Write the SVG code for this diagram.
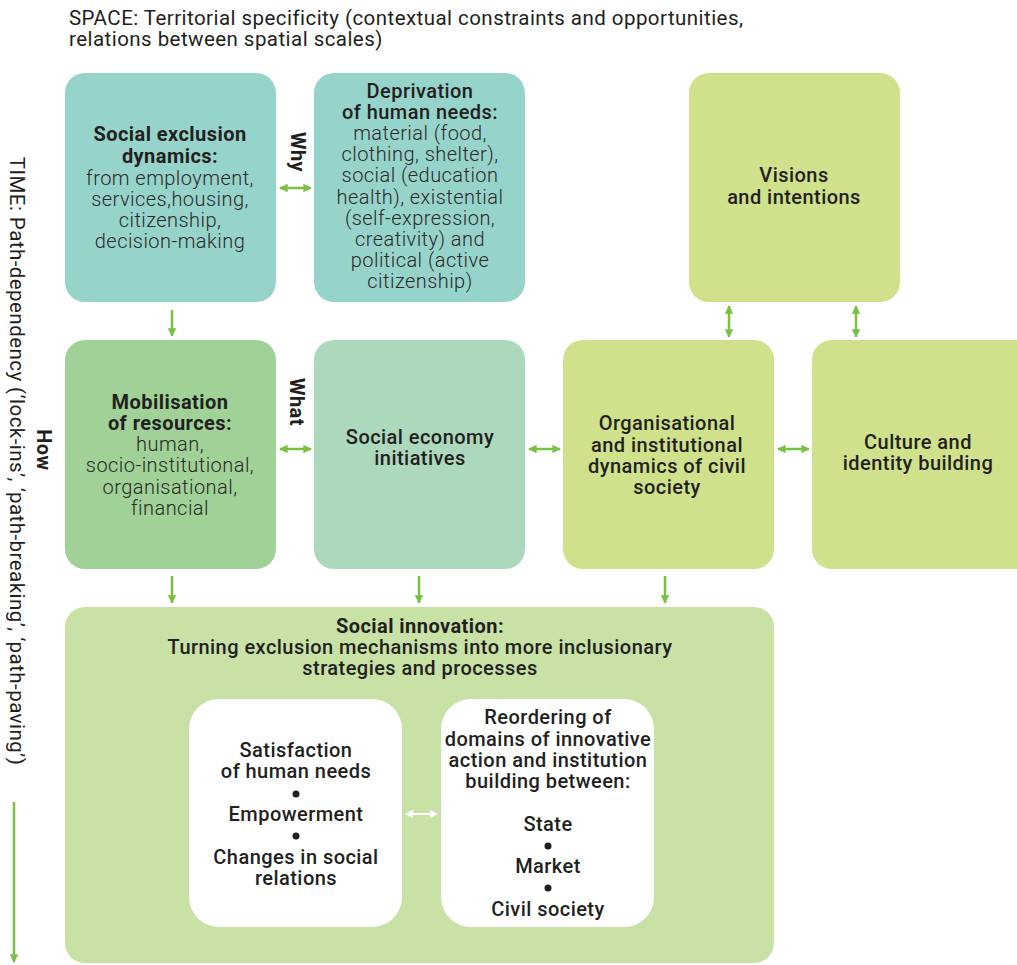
<svg xmlns="http://www.w3.org/2000/svg" width="1017" height="965" viewBox="0 0 1017 965">
<style>
text{font-family:Roboto,"Liberation Sans",sans-serif;fill:#231f20;font-size:20px;letter-spacing:0.45px;text-anchor:middle}
.b{font-weight:700}
.m{font-weight:500}
.l{font-weight:300;fill:#2b2829}
.t{font-size:20.5px;text-anchor:start;font-weight:400}
.teal{fill:#96d4cb}
.lime{fill:#d0e18c}
.mob{fill:#a0d197}
.se{fill:#acd9bc}
.big{fill:#c8e2a6}
.wh{fill:#ffffff}
.arr{stroke:#7ac143;stroke-width:2.5;fill:none}
.warr{stroke:#ffffff;stroke-width:2;fill:none}
</style>
<defs>
<marker id="ah" viewBox="0 0 10 10" refX="9" refY="5" markerWidth="3.4" markerHeight="3.4" orient="auto-start-reverse" markerUnits="strokeWidth"><path d="M0,0 L10,5 L0,10 z" fill="#7ac143"/></marker>
<marker id="wh" viewBox="0 0 10 10" refX="9" refY="5" markerWidth="4" markerHeight="4" orient="auto-start-reverse" markerUnits="strokeWidth"><path d="M0,0 L10,5 L0,10 z" fill="#ffffff"/></marker>
</defs>

<g id="title">
<text class="t" x="69" y="25">SPACE: Territorial specificity (contextual constraints and opportunities,</text>
<text class="t" x="69" y="46">relations between spatial scales)</text>
</g>

<g id="time-label">
<text class="t" transform="translate(10,461) rotate(90)" style="text-anchor:middle">TIME: Path-dependency (‘lock-ins’, ‘path-breaking’, ‘path-paving’)</text>
<text class="b" transform="translate(37,450) rotate(90)">How</text>
</g>

<g id="social-exclusion">
<rect class="teal" x="65" y="73" width="211" height="229" rx="20"/>
<text class="b" x="170" y="141">Social exclusion</text>
<text class="b" x="170" y="163">dynamics:</text>
<text class="l" x="170" y="185">from employment,</text>
<text class="l" x="170" y="206">services,housing,</text>
<text class="l" x="170" y="227">citizenship,</text>
<text class="l" x="170" y="248">decision-making</text>
</g>

<g id="deprivation">
<rect class="teal" x="314" y="73" width="211" height="229" rx="20"/>
<text class="m" x="420" y="98">Deprivation</text>
<text class="m" x="420" y="119">of human needs:</text>
<text class="l" x="420" y="140">material (food,</text>
<text class="l" x="420" y="161">clothing, shelter),</text>
<text class="l" x="420" y="182">social (education</text>
<text class="l" x="420" y="204">health), existential</text>
<text class="l" x="420" y="225">(self-expression,</text>
<text class="l" x="420" y="246">creativity) and</text>
<text class="l" x="420" y="267">political (active</text>
<text class="l" x="420" y="288">citizenship)</text>
</g>

<g id="visions">
<rect class="lime" x="689" y="73" width="211" height="229" rx="20"/>
<text class="m" x="794" y="182">Visions</text>
<text class="m" x="794" y="204">and intentions</text>
</g>

<g id="mobilisation">
<rect class="mob" x="65" y="340" width="211" height="229" rx="20"/>
<text class="b" x="170" y="409">Mobilisation</text>
<text class="b" x="170" y="430">of resources:</text>
<text class="l" x="170" y="451">human,</text>
<text class="l" x="170" y="472">socio-institutional,</text>
<text class="l" x="170" y="494">organisational,</text>
<text class="l" x="170" y="515">financial</text>
</g>

<g id="social-economy">
<rect class="se" x="314" y="340" width="211" height="229" rx="20"/>
<text class="m" x="420" y="444">Social economy</text>
<text class="m" x="420" y="465">initiatives</text>
</g>

<g id="organisational">
<rect class="lime" x="563" y="340" width="211" height="229" rx="20"/>
<text class="m" x="667" y="430">Organisational</text>
<text class="m" x="667" y="452">and institutional</text>
<text class="m" x="667" y="473">dynamics of civil</text>
<text class="m" x="667" y="494">society</text>
</g>

<g id="culture">
<rect class="lime" x="812" y="340" width="225" height="229" rx="20"/>
<text class="m" x="918" y="449">Culture and</text>
<text class="m" x="918" y="470">identity building</text>
</g>

<g id="social-innovation">
<rect class="big" x="65" y="607" width="709" height="356" rx="20"/>
<text class="b" x="420" y="633">Social innovation:</text>
<text class="m" x="420" y="654">Turning exclusion mechanisms into more inclusionary</text>
<text class="m" x="420" y="675">strategies and processes</text>
</g>

<g id="satisfaction">
<rect class="wh" x="189" y="699" width="213" height="228" rx="30"/>
<text class="m" x="296" y="757">Satisfaction</text>
<text class="m" x="296" y="778">of human needs</text>
<circle cx="296" cy="794" r="3.5" fill="#231f20"/>
<text class="m" x="296" y="821">Empowerment</text>
<circle cx="296" cy="836" r="3.5" fill="#231f20"/>
<text class="m" x="296" y="864">Changes in social</text>
<text class="m" x="296" y="885">relations</text>
</g>

<g id="reordering">
<rect class="wh" x="441" y="699" width="213" height="228" rx="30"/>
<text class="m" x="548" y="724">Reordering of</text>
<text class="m" x="548" y="746">domains of innovative</text>
<text class="m" x="548" y="767">action and institution</text>
<text class="m" x="548" y="788">building between:</text>
<text class="m" x="548" y="831">State</text>
<circle cx="548" cy="846" r="3.5" fill="#231f20"/>
<text class="m" x="548" y="873">Market</text>
<circle cx="548" cy="888" r="3.5" fill="#231f20"/>
<text class="m" x="548" y="916">Civil society</text>
</g>

<g id="side-labels">
<text class="b" transform="translate(291,152) rotate(90)">Why</text>
<text class="b" transform="translate(290,402) rotate(90)">What</text>
</g>

<g id="connectors">
<line class="arr" x1="172" y1="310" x2="172" y2="336" marker-end="url(#ah)"/>
<line class="arr" x1="172" y1="576" x2="172" y2="603" marker-end="url(#ah)"/>
<line class="arr" x1="419" y1="576" x2="419" y2="603" marker-end="url(#ah)"/>
<line class="arr" x1="665" y1="576" x2="665" y2="603" marker-end="url(#ah)"/>
<line class="arr" x1="280" y1="188" x2="311" y2="188" marker-start="url(#ah)" marker-end="url(#ah)"/>
<line class="arr" x1="280" y1="449" x2="311" y2="449" marker-start="url(#ah)" marker-end="url(#ah)"/>
<line class="arr" x1="529" y1="449" x2="560" y2="449" marker-start="url(#ah)" marker-end="url(#ah)"/>
<line class="arr" x1="778" y1="449" x2="809" y2="449" marker-start="url(#ah)" marker-end="url(#ah)"/>
<line class="arr" x1="729" y1="306" x2="729" y2="337" marker-start="url(#ah)" marker-end="url(#ah)"/>
<line class="arr" x1="856" y1="306" x2="856" y2="337" marker-start="url(#ah)" marker-end="url(#ah)"/>
<line class="warr" x1="406" y1="814" x2="437" y2="814" marker-start="url(#wh)" marker-end="url(#wh)"/>
<line class="arr" x1="14" y1="802" x2="14" y2="962" marker-end="url(#ah)"/>
</g>
</svg>
